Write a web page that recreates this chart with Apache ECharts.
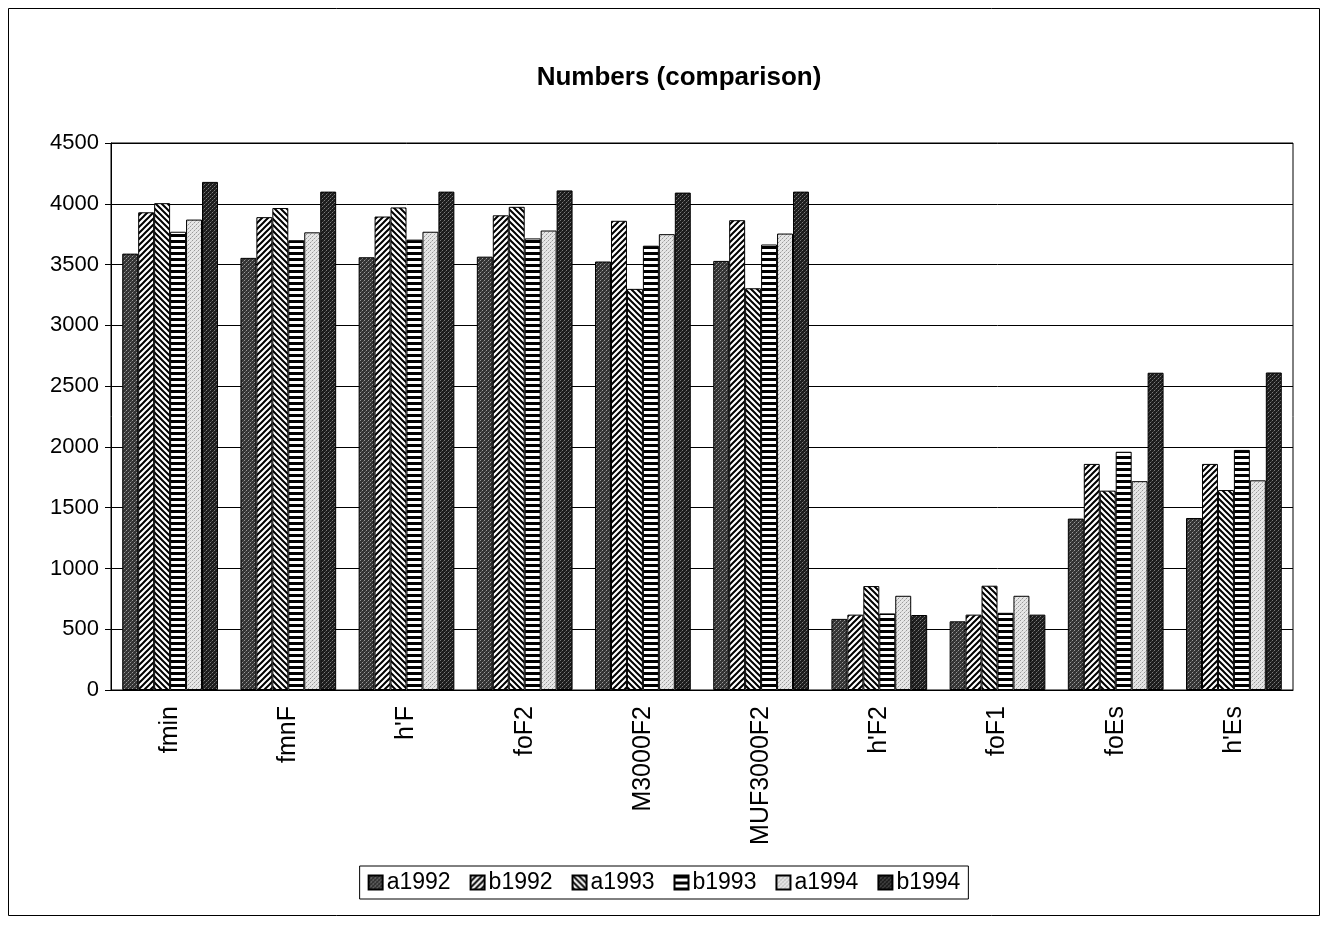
<!DOCTYPE html>
<html>
<head>
<meta charset="utf-8">
<title>Numbers (comparison)</title>
<script src="https://cdn.jsdelivr.net/npm/echarts@6/dist/echarts.min.js"></script>
<style>
  html, body { margin: 0; padding: 0; background: #fff; }
  #chart { width: 1328px; height: 925px; }
</style>
</head>
<body>
<div id="chart"></div>
<script>
// Categories (ionogram parameters) and series names
const categories = ['fmin', 'fmnF', "h'F", 'foF2', 'M3000F2', 'MUF3000F2', "h'F2", 'foF1', 'foEs', "h'Es"];
const seriesNames = ['a1992', 'b1992', 'a1993', 'b1993', 'a1994', 'b1994'];

// Counts per parameter, one array per series (same order as categories)
const a1992 = [3590, 3555, 3560, 3565, 3525, 3530, 585, 565, 1410, 1415];
const b1992 = [3930, 3890, 3895, 3905, 3860, 3865, 620, 620, 1860, 1860];
const a1993 = [4005, 3965, 3970, 3975, 3300, 3305, 855, 858, 1640, 1645];
const b1993 = [3770, 3700, 3705, 3715, 3655, 3665, 630, 635, 1960, 1975];
const a1994 = [3870, 3765, 3770, 3780, 3750, 3755, 775, 775, 1718, 1725];
const b1994 = [4180, 4100, 4100, 4110, 4092, 4100, 617, 620, 2610, 2612];

const yTicks = { min: 0, max: 4500, interval: 500 };

// --- monochrome fill patterns ---
function tile(w, h, draw) {
  const c = document.createElement('canvas');
  c.width = w; c.height = h;
  const ctx = c.getContext('2d');
  draw(ctx, w, h);
  return { image: c, repeat: 'repeat' };
}
function speckle(base, dot1, dot2) {
  return tile(4, 4, (ctx) => {
    ctx.fillStyle = base; ctx.fillRect(0, 0, 4, 4);
    ctx.fillStyle = dot1; ctx.fillRect(0, 0, 1, 1); ctx.fillRect(2, 2, 1, 1);
    ctx.fillStyle = dot2; ctx.fillRect(3, 1, 1, 1); ctx.fillRect(1, 3, 1, 1);
  });
}
function diagonal(forward) {
  return tile(6, 6, (ctx, w, h) => {
    ctx.fillStyle = '#fff'; ctx.fillRect(0, 0, w, h);
    ctx.strokeStyle = '#000'; ctx.lineWidth = 2;
    ctx.beginPath();
    if (forward) {
      ctx.moveTo(-1, h + 1); ctx.lineTo(w + 1, -1);
      ctx.moveTo(-1, 1); ctx.lineTo(1, -1);
      ctx.moveTo(w - 1, h + 1); ctx.lineTo(w + 1, h - 1);
    } else {
      ctx.moveTo(-1, -1); ctx.lineTo(w + 1, h + 1);
      ctx.moveTo(w - 1, -1); ctx.lineTo(w + 1, 1);
      ctx.moveTo(-1, h - 1); ctx.lineTo(1, h + 1);
    }
    ctx.stroke();
  });
}
function horizontal() {
  return tile(6, 6, (ctx, w, h) => {
    ctx.fillStyle = '#fff'; ctx.fillRect(0, 0, w, h);
    ctx.fillStyle = '#000'; ctx.fillRect(0, 0, w, 3);
  });
}

const fills = [
  speckle('#333', '#9a9a9a', '#5a5a5a'),
  diagonal(true),
  diagonal(false),
  horizontal(),
  speckle('#e6e6e6', '#9a9a9a', '#c4c4c4'),
  speckle('#1c1c1c', '#7a7a7a', '#444')
];
const values = [a1992, b1992, a1993, b1993, a1994, b1994];

const FONT = 'Liberation Sans, Arial, sans-serif';

const chart = echarts.init(document.getElementById('chart'), null, { renderer: 'canvas' });
chart.setOption({
  backgroundColor: '#fff',
  animation: false,
  title: {
    text: 'Numbers (comparison)',
    left: 674,
    top: 60,
    textAlign: 'center',
    textStyle: { fontFamily: FONT, fontWeight: 'bold', fontSize: 26, color: '#000' }
  },
  graphic: [{
    type: 'rect',
    shape: { x: 8.5, y: 8.5, width: 1311, height: 907 },
    style: { fill: null, stroke: '#000', lineWidth: 1 }
  }],
  grid: {
    left: 111, right: 35, top: 143, bottom: 235,
    show: true, borderColor: '#000', borderWidth: 1, backgroundColor: 'transparent'
  },
  legend: {
    data: seriesNames,
    left: 'center',
    top: 866,
    orient: 'horizontal',
    itemWidth: 14, itemHeight: 14, itemGap: 19,
    icon: 'rect',
    borderColor: '#000', borderWidth: 1, padding: [5, 8, 5, 8],
    textStyle: { fontFamily: FONT, fontSize: 23, color: '#000', padding: [0, 0, 0, -1] }
  },
  xAxis: {
    type: 'category',
    data: categories,
    axisLine: { lineStyle: { color: '#000', width: 1 } },
    axisTick: { inside: true, length: 5, lineStyle: { color: '#000' } },
    axisLabel: {
      rotate: 90, margin: 16, color: '#000',
      fontFamily: FONT, fontSize: 25
    }
  },
  yAxis: {
    type: 'value',
    min: yTicks.min, max: yTicks.max, interval: yTicks.interval,
    axisLine: { show: true, lineStyle: { color: '#000', width: 1 } },
    axisTick: { show: true, length: 6, lineStyle: { color: '#000' } },
    splitLine: { lineStyle: { color: '#000', width: 1 } },
    axisLabel: {
      color: '#000', fontFamily: FONT, fontSize: 22, margin: 12,
      formatter: (v) => String(v)
    }
  },
  series: seriesNames.map((name, i) => ({
    name: name,
    type: 'bar',
    data: values[i],
    barGap: '0%',
    barCategoryGap: '19%',
    itemStyle: { color: fills[i], borderColor: '#000', borderWidth: 1 },
    emphasis: { disabled: true }
  }))
});
</script>
</body>
</html>
